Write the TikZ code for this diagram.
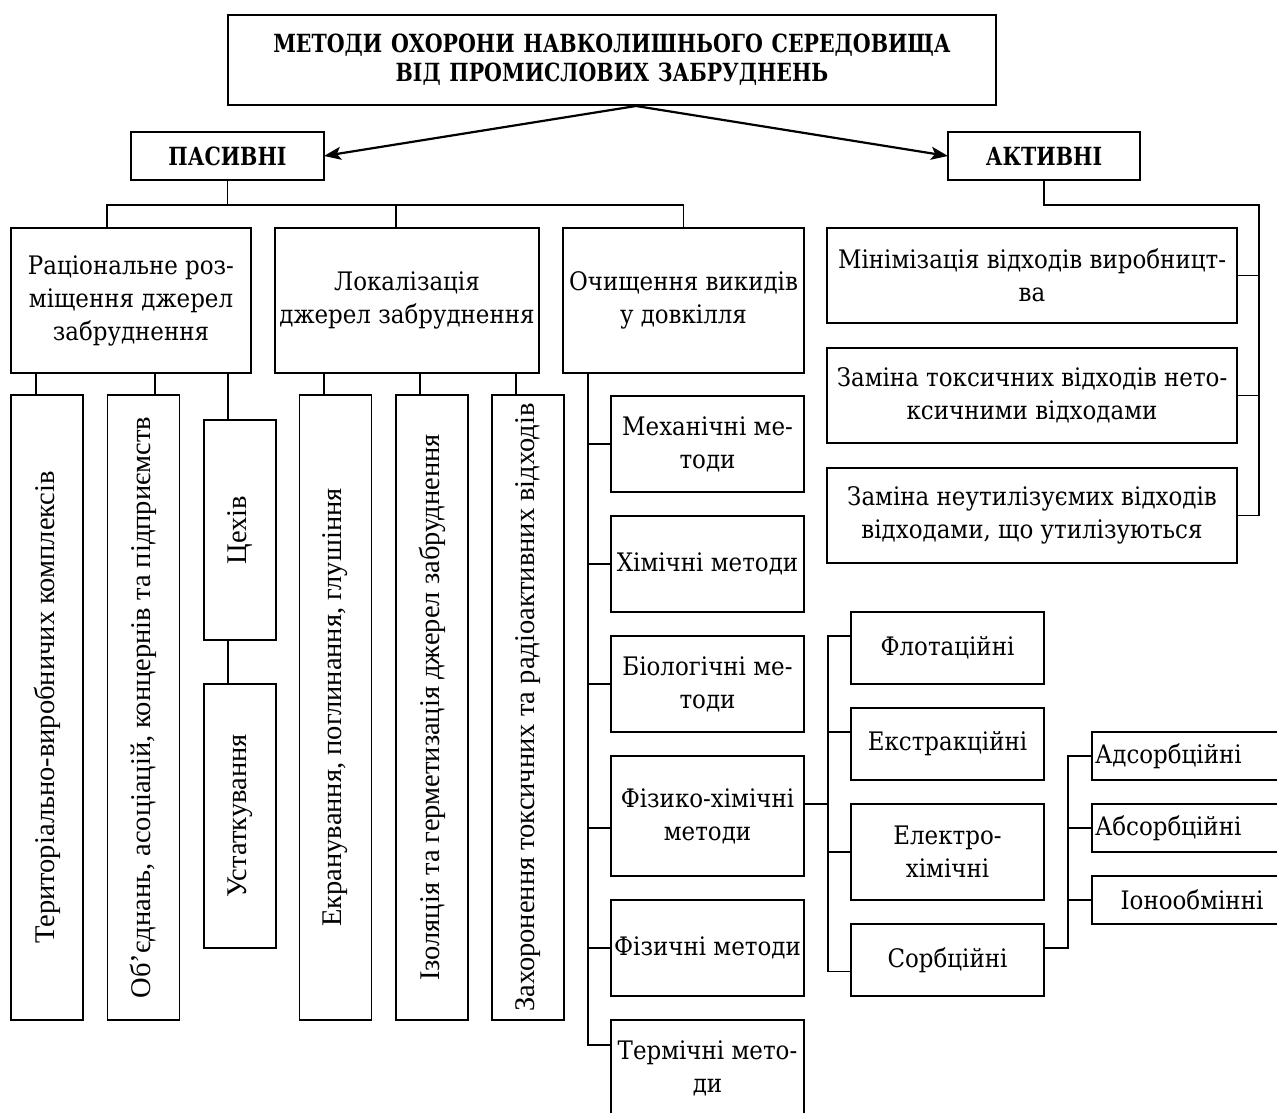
\documentclass[tikz,border=0pt]{standalone}
\usepackage{fontspec}
\setmainfont{DejaVu Serif}[FakeStretch=0.9]
\newfontfamily\headfont{DejaVu Serif}[FakeStretch=0.82]
\newfontfamily\vertfont{Liberation Serif}
\usetikzlibrary{arrows.meta, positioning, calc}
\newcommand{\tsp}{\hspace{0.35em}}

\begin{document}
\begin{tikzpicture}[x=1pt, y=1pt, line width=1.5pt]
	\tikzset{>={Stealth[length=17pt, width=13pt, inset=4pt]}, node distance=24pt,
		box/.style={draw, rectangle, outer sep=0pt, inner sep=2pt, align=center, font=\fontsize{25.5}{33}\selectfont},
		head/.style={box, minimum height=48pt, font=\headfont\fontsize{25}{29}\selectfont\bfseries},
		vbox/.style={draw, rectangle, outer sep=0pt, rotate=90, minimum height=72pt, font=\vertfont\fontsize{28.5}{30}\selectfont},
		sbox/.style={box, minimum width=200pt, minimum height=48pt, text width=194pt, align=left, inner xsep=2pt},
		arr/.style={->, line width=2.2pt}}

	\useasboundingbox (0,0) rectangle (1277,-1113);
	\clip (0,0) rectangle (1277,-1113);

	% top of the tree
	\node[head, minimum width=768pt, minimum height=90pt, anchor=north west] (title) at (228,-15)
		{МЕТОДИ\tsp ОХОРОНИ\tsp НАВКОЛИШНЬОГО\tsp СЕРЕДОВИЩА\\ВІД\tsp ПРОМИСЛОВИХ\tsp ЗАБРУДНЕНЬ};
	\node[head, minimum width=193pt, anchor=north west] (pas) at (131,-132) {ПАСИВНІ};
	\node[head, minimum width=192pt, anchor=north west] (akt) at (948,-132) {АКТИВНІ};
	\coordinate (apex) at (636,-106);
	\draw[arr] (apex) -- (pas.east);
	\draw[arr] (apex) -- (akt.west);

	% passive methods
	\node[box, minimum width=240pt, minimum height=145pt, anchor=north west] (rac) at (11,-228) {Раціональне роз-\\міщення джерел\\забруднення};
	\node[box, minimum width=264pt, minimum height=145pt, right=24pt of rac] (lok) {Локалізація\\джерел забруднення};
	\node[box, minimum width=241pt, minimum height=145pt, right=24pt of lok] (och) {Очищення викидів\\у довкілля};
	\coordinate (pbar) at (0,-205);
	\draw (pas.south) -- (pas.south |- pbar);
	\draw ([xshift=-24pt]rac.north) |- (pbar -| och.north) -- (och.north);
	\draw ([xshift=-11pt]lok.north) -- ([xshift=-11pt]lok.north |- pbar);

	\node[vbox, minimum width=625pt, anchor=east] (ter) at (47,-395) {Територіально-виробничих комплексів};
	\node[vbox, minimum width=625pt, anchor=east] (obj) at (143.5,-395) {Об’єднань, асоціацій, концернів та підприємств};
	\node[vbox, minimum width=220pt, anchor=east] (cex) at (240,-420) {Цехів};
	\node[vbox, minimum width=264pt, anchor=east] (ust) at (240,-684) {Устаткування};
	\node[vbox, minimum width=625pt, anchor=east] (ekr) at (335.5,-395) {Екранування, поглинання, глушіння};
	\node[vbox, minimum width=625pt, anchor=east] (izo) at (432,-395) {Ізоляція та герметизація джерел забруднення};
	\node[vbox, minimum width=625pt, anchor=east] (zax) at (528,-395) {Захоронення токсичних та радіоактивних відходів};
	\draw ([xshift=-11pt]ter.east) -- ([xshift=-11pt]ter.east |- rac.south);
	\draw ([xshift=11.5pt]obj.east) -- ([xshift=11.5pt]obj.east |- rac.south);
	\draw ([xshift=-12pt]cex.east) -- ([xshift=-12pt]cex.east |- rac.south);
	\draw ([xshift=-12pt]cex.west) -- ([xshift=-12pt]ust.east);
	\draw ([xshift=-11.5pt]ekr.east) -- ([xshift=-11.5pt]ekr.east |- lok.south);
	\draw ([xshift=-12pt]izo.east) -- ([xshift=-12pt]izo.east |- lok.south);
	\draw ([xshift=-12pt]zax.east) -- ([xshift=-12pt]zax.east |- lok.south);

	% cleaning of emissions
	\node[box, minimum width=193pt, minimum height=96pt, anchor=north west] (mex) at (611,-396) {Механічні ме-\\тоди};
	\node[box, minimum width=193pt, minimum height=96pt, below=24pt of mex] (him) {Хімічні методи};
	\node[box, minimum width=193pt, minimum height=96pt, below=24pt of him] (bio) {Біологічні ме-\\тоди};
	\node[box, minimum width=193pt, minimum height=120pt, below=24pt of bio] (fhm) {Фізико-хімічні\\методи};
	\node[box, minimum width=193pt, minimum height=96pt, below=24pt of fhm] (fiz) {Фізичні методи};
	\node[box, minimum width=193pt, minimum height=96pt, below=24pt of fiz] (trm) {Термічні мето-\\ди};
	\coordinate (otr) at ([xshift=25pt]och.south west);
	\draw (otr) |- ([yshift=23pt]trm.west);
	\draw (mex.west) -- (mex.west -| otr);
	\draw (him.west) -- (him.west -| otr);
	\draw (bio.west) -- (bio.west -| otr);
	\draw ([yshift=-12pt]fhm.west) -- ([yshift=-12pt]fhm.west -| otr);
	\draw (fiz.west) -- (fiz.west -| otr);

	% physico-chemical methods
	\node[box, minimum width=193pt, minimum height=72pt, anchor=north west] (flo) at (851,-612) {Флотаційні};
	\node[box, minimum width=193pt, minimum height=72pt, below=24pt of flo] (ext) {Екстракційні};
	\node[box, minimum width=193pt, minimum height=96pt, below=24pt of ext] (ele) {Електро-\\хімічні};
	\node[box, minimum width=193pt, minimum height=72pt, below=24pt of ele] (sor) {Сорбційні};
	\coordinate (ftr) at ([xshift=-23pt, yshift=12pt]flo.west);
	\draw ([yshift=12pt]flo.west) -- (ftr) |- ([yshift=-11.5pt]sor.west);
	\draw ([yshift=12pt]fhm.east) -| (ftr);
	\draw ([yshift=12pt]ext.west) -- ([yshift=12pt]ext.west -| ftr);
	\draw (ele.west) -- (ele.west -| ftr);

	% sorption methods
	\node[sbox, anchor=north west] (ads) at (1092,-732) {Адсорбційні};
	\node[sbox, below=24pt of ads] (abs) {Абсорбційні};
	\node[sbox, below=24pt of abs, align=center] (ion) {Іонообмінні};
	\coordinate (str) at ([xshift=-24pt]ads.west);
	\draw (ads.west) -- (str) |- ([yshift=12pt]sor.east);
	\draw (abs.west) -- (abs.west -| str);
	\draw (ion.west) -- (ion.west -| str);

	% active methods
	\node[box, minimum width=410pt, minimum height=95pt, anchor=north west] (mn) at (827,-228) {Мінімізація відходів виробницт-\\ва};
	\node[box, minimum width=410pt, minimum height=95pt, below=25pt of mn] (zt) {Заміна токсичних відходів нето-\\ксичними відходами};
	\node[box, minimum width=410pt, minimum height=95pt, below=25pt of zt] (zn) {Заміна неутилізуємих відходів\\відходами, що утилізуються};
	\coordinate (atr) at ([xshift=22pt]zn.east);
	\draw (akt.south) |- (atr |- pbar) -- (atr) -- (zn.east);
	\draw (mn.east) -- (mn.east -| atr);
	\draw (zt.east) -- (zt.east -| atr);
\end{tikzpicture}
\end{document}
